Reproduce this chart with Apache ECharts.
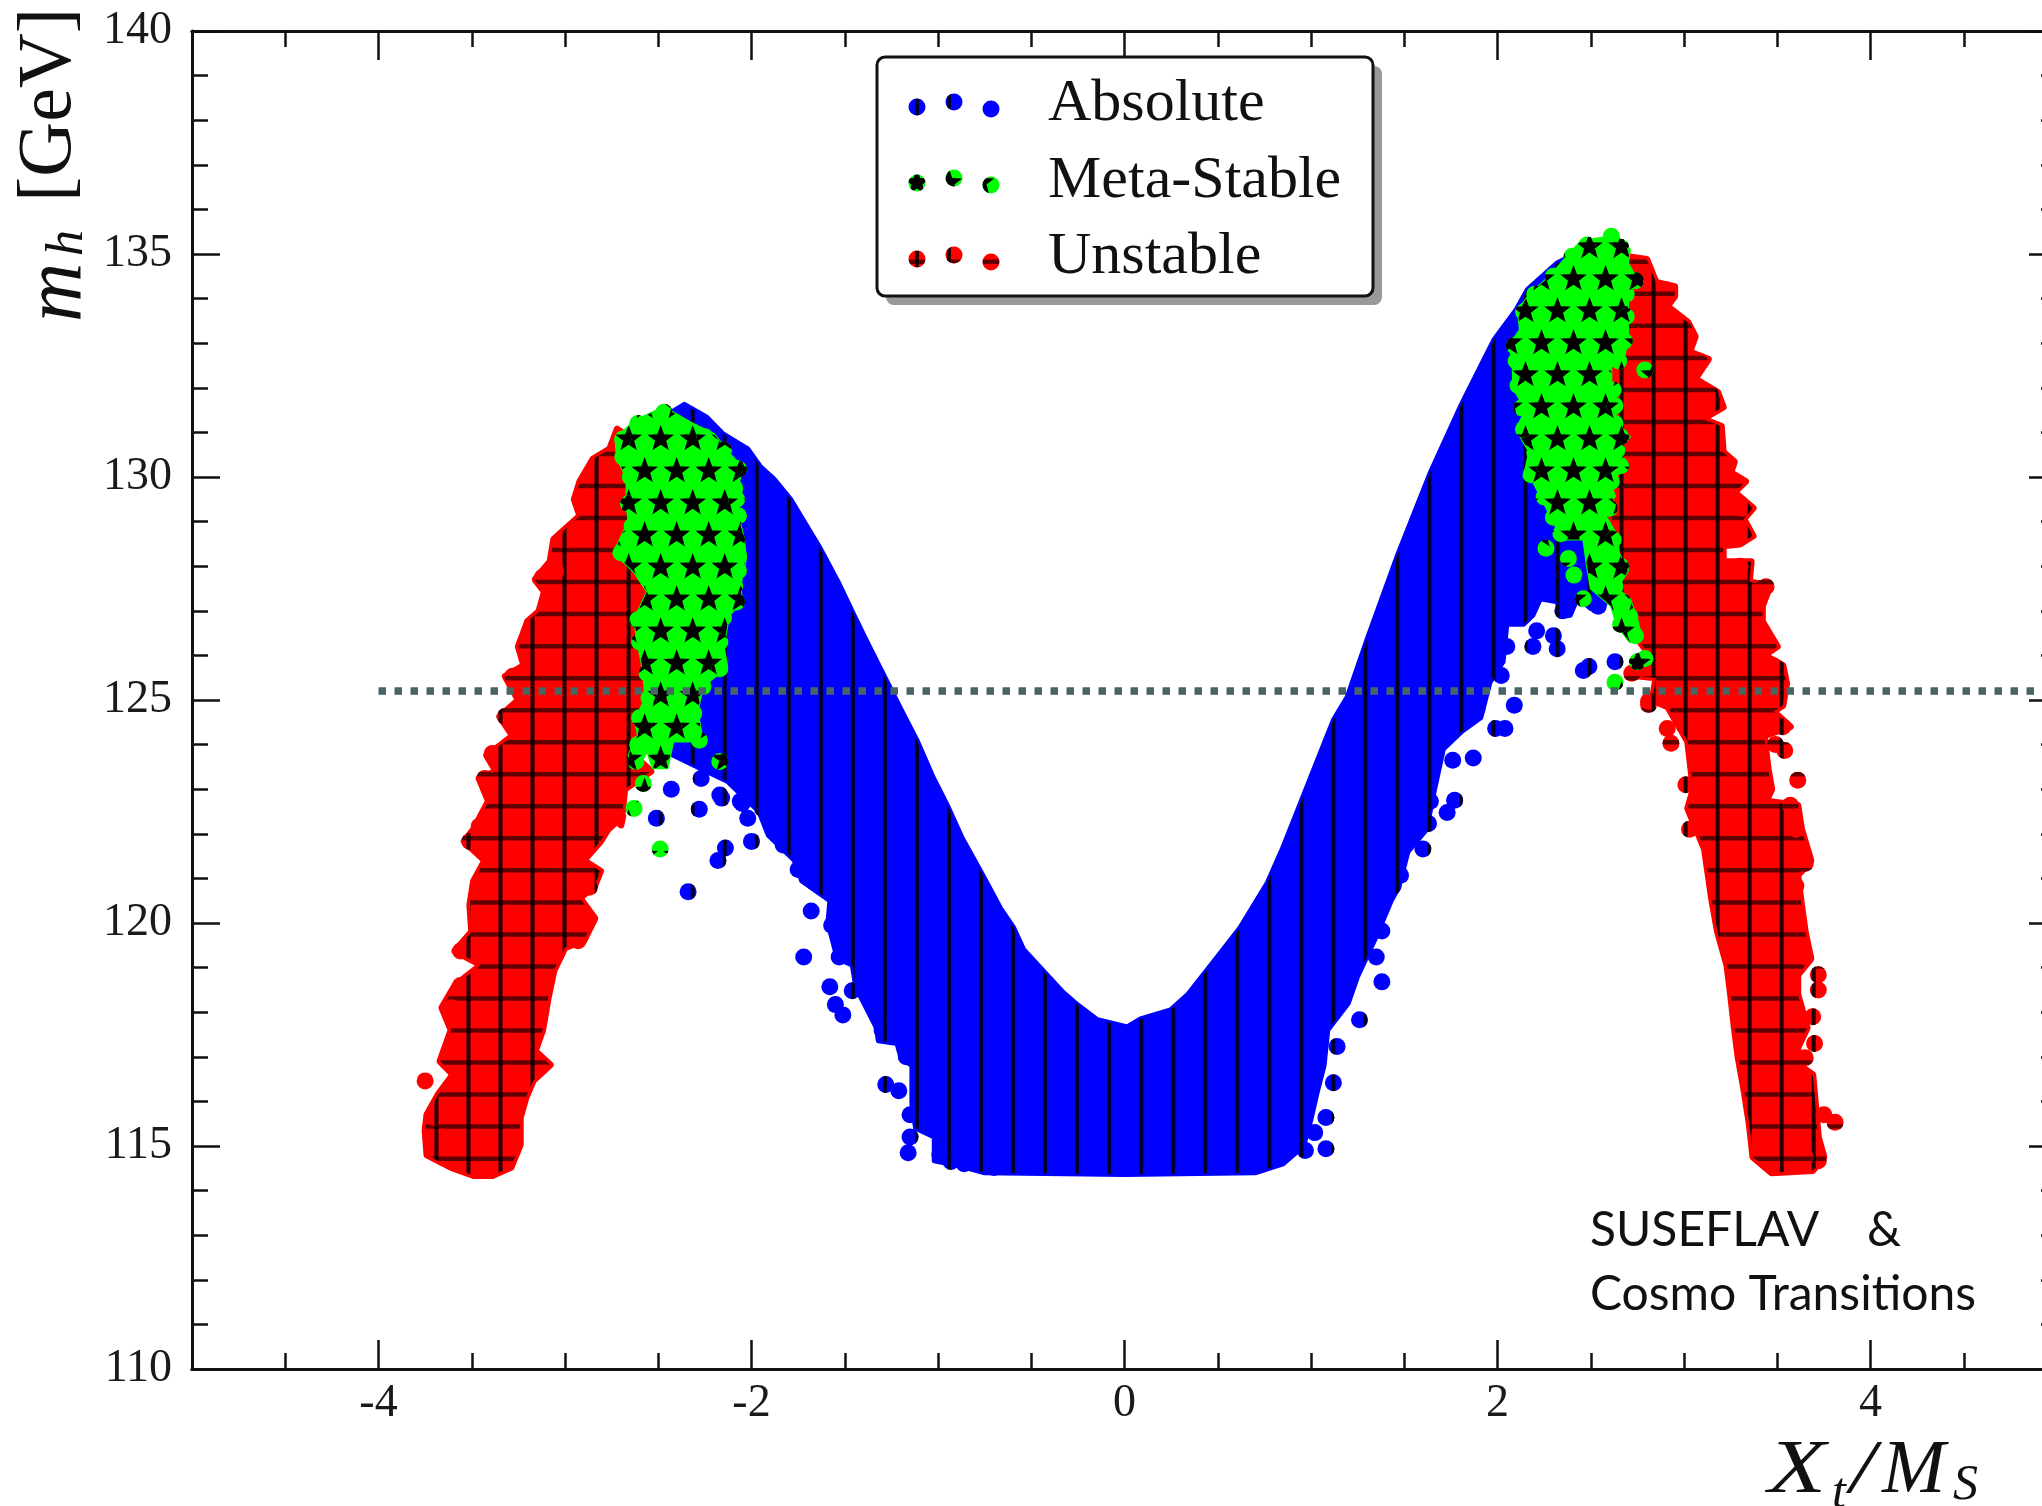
<!DOCTYPE html>
<html>
<head>
<meta charset="utf-8">
<title>m_h vs X_t/M_S</title>
<script src="https://cdn.jsdelivr.net/npm/echarts@6/dist/echarts.min.js"></script>
<style>
  html, body { margin: 0; padding: 0; background: #fff; }
  #main { width: 2042px; height: 1506px; filter: blur(0.7px); }
</style>
</head>
<body>
<div id="main"></div>
<script>
const xMajorTicks = [-4, -2, 0, 2, 4];

// outlines of the dense regions as [Xt/Ms, mh]
const absoluteOutline = [[-2.45,131.4],[-2.36,131.63],[-2.24,131.34],[-2.15,130.96],[-2.02,130.63],[-1.95,130.22],[-1.88,129.96],[-1.79,129.5],[-1.63,128.39],[-1.53,127.6],[-1.45,126.9],[-1.38,126.3],[-1.29,125.55],[-1.2,124.8],[-1.11,124.07],[-1.03,123.3],[-0.95,122.64],[-0.87,121.9],[-0.77,121.15],[-0.665,120.33],[-0.595,119.9],[-0.54,119.4],[-0.43,118.9],[-0.33,118.45],[-0.25,118.16],[-0.145,117.83],[0.015,117.67],[0.086,117.85],[0.247,118.05],[0.34,118.4],[0.42,118.83],[0.515,119.33],[0.62,119.9],[0.766,120.9],[0.85,121.7],[0.944,122.69],[1.03,123.6],[1.12,124.55],[1.195,125.07],[1.3,126.35],[1.46,128.2],[1.64,130.1],[1.8,131.57],[1.98,133.07],[2.1,133.75],[2.16,134.2],[2.32,134.8],[2.46,135.1],[2.63,135.1],[2.67,132],[2.63,129],[2.6,127.3],[2.55,127],[2.5,127.05],[2.43,127.3],[2.39,126.9],[2.34,126.87],[2.32,127.2],[2.23,127.27],[2.19,126.9],[2.14,126.7],[2.05,126.7],[2.03,125.86],[1.96,125.4],[1.91,124.6],[1.81,124.3],[1.71,123.9],[1.66,122.95],[1.62,122.1],[1.52,121.6],[1.47,120.8],[1.43,120.5],[1.35,119.7],[1.25,118.8],[1.2,118.2],[1.09,117.6],[1.07,116.8],[1.03,116.15],[1,115.6],[0.96,115],[0.85,114.6],[0.7,114.4],[0,114.36],[-0.75,114.4],[-0.88,114.55],[-1.02,114.67],[-1.02,115.2],[-1.12,115.4],[-1.14,115.93],[-1.14,116.8],[-1.2,117],[-1.22,117.3],[-1.32,117.36],[-1.33,117.65],[-1.44,118.55],[-1.46,119.06],[-1.54,119.2],[-1.59,120],[-1.58,120.5],[-1.73,120.94],[-1.77,121.4],[-1.91,121.97],[-1.96,122.5],[-2.13,123.18],[-2.29,123.5],[-2.42,123.76],[-2.45,124.74]];

const unstableLeftOutline = [[-2.72,131.07],[-2.76,130.63],[-2.85,130.4],[-2.92,129.9],[-2.95,129.5],[-2.92,129.13],[-3.06,128.6],[-3.08,128.1],[-3.16,127.7],[-3.11,127.43],[-3.14,126.98],[-3.2,126.76],[-3.25,126.2],[-3.22,125.77],[-3.32,125.53],[-3.25,125],[-3.35,124.63],[-3.28,124.2],[-3.34,124],[-3.42,123.76],[-3.37,123.4],[-3.46,123.24],[-3.41,122.73],[-3.49,122.1],[-3.54,121.83],[-3.43,121.4],[-3.49,120.94],[-3.51,120.4],[-3.5,119.8],[-3.59,119.37],[-3.45,119.06],[-3.59,118.6],[-3.66,118.1],[-3.61,117.6],[-3.67,116.9],[-3.6,116.6],[-3.68,116.15],[-3.74,115.7],[-3.75,115.35],[-3.74,114.8],[-3.61,114.52],[-3.49,114.34],[-3.39,114.34],[-3.29,114.52],[-3.24,115.03],[-3.24,115.64],[-3.21,116.08],[-3.17,116.47],[-3.08,116.82],[-3.16,117.13],[-3.12,117.6],[-3.09,118.33],[-3.06,118.93],[-3,119.45],[-2.9,119.6],[-2.84,120.1],[-2.92,120.56],[-2.84,120.85],[-2.81,121.16],[-2.9,121.4],[-2.81,121.83],[-2.77,122.1],[-2.69,122.4],[-2.7,122.2],[-2.68,123],[-2.54,123.4],[-2.63,123.76],[-2.58,124.36],[-2.56,125.3],[-2.56,127.43],[-2.61,129.2],[-2.66,130.2],[-2.66,130.9]];

const unstableRightOutline = [[2.7,134.94],[2.8,134.88],[2.85,134.36],[2.95,134.27],[2.95,134.05],[2.91,133.83],[3.02,133.47],[3.06,133.15],[3.03,132.8],[3.13,132.64],[3.06,132.2],[3.18,131.9],[3.21,131.57],[3.1,131.3],[3.2,131.14],[3.21,130.56],[3.27,130.34],[3.25,130.1],[3.33,129.9],[3.27,129.66],[3.37,129.3],[3.32,129.06],[3.37,128.68],[3.3,128.5],[3.21,128.46],[3.21,128.1],[3.36,128.1],[3.35,127.65],[3.46,127.56],[3.42,127.1],[3.42,126.76],[3.5,126.2],[3.43,126],[3.53,125.77],[3.55,125.37],[3.53,124.88],[3.48,124.74],[3.57,124.4],[3.43,124.2],[3.45,123.47],[3.47,123],[3.44,122.73],[3.61,122.64],[3.63,122.1],[3.68,121.4],[3.61,121.07],[3.63,120.4],[3.65,119.8],[3.68,119.2],[3.61,118.84],[3.61,118.4],[3.66,117.65],[3.61,117.2],[3.62,116.8],[3.69,116.6],[3.7,116.15],[3.72,115.2],[3.75,114.75],[3.69,114.45],[3.47,114.4],[3.37,114.75],[3.35,115.5],[3.32,116.3],[3.29,117],[3.27,117.65],[3.25,118.4],[3.23,119.06],[3.18,119.8],[3.15,120.5],[3.11,121.66],[3.02,122.57],[3.05,123],[3.02,124.07],[2.92,124.8],[2.94,124.8],[2.83,125],[2.85,125.5],[2.73,125.55],[2.8,126.1],[2.71,126.6],[2.62,127.34],[2.66,128.3],[2.59,129.44],[2.61,131.3],[2.6,132.4],[2.7,133.6]];

const metaLeftOutline = [[-2.73,130.85],[-2.63,131.25],[-2.47,131.57],[-2.33,131.23],[-2.2,130.96],[-2.13,130.58],[-2.05,130.22],[-2.07,129.8],[-2.07,129.13],[-2.04,128.6],[-2.03,128.17],[-2.06,127.56],[-2.05,127.2],[-2.12,126.9],[-2.15,126.2],[-2.13,125.75],[-2.26,125.3],[-2.29,124.74],[-2.26,124.07],[-2.33,124.07],[-2.42,124.07],[-2.45,123.47],[-2.53,123.47],[-2.56,123.85],[-2.61,123.47],[-2.66,123.76],[-2.61,124.2],[-2.62,124.6],[-2.57,125.03],[-2.58,125.6],[-2.61,126.3],[-2.63,126.8],[-2.56,127.43],[-2.63,127.87],[-2.74,128.3],[-2.66,129],[-2.67,129.4],[-2.67,130],[-2.72,130.4]];

const metaRightOutline = [[2.61,135.55],[2.67,135.26],[2.71,135.1],[2.7,134.8],[2.75,134.4],[2.7,134.1],[2.7,133.6],[2.7,133.09],[2.68,132.7],[2.61,132.48],[2.61,131.9],[2.66,131.6],[2.61,131.23],[2.71,130.9],[2.62,130.6],[2.7,130.25],[2.6,129.9],[2.63,129.57],[2.57,129.2],[2.64,128.7],[2.65,128.3],[2.7,127.9],[2.64,127.5],[2.71,127.27],[2.75,126.8],[2.77,126.44],[2.71,126.3],[2.64,126.67],[2.61,127.1],[2.5,127.5],[2.48,128],[2.46,128.6],[2.34,128.6],[2.3,129],[2.23,129.57],[2.19,129.9],[2.14,130],[2.17,130.56],[2.1,131.07],[2.15,131.5],[2.085,132],[2.08,132.64],[2.06,132.93],[2.12,133.3],[2.11,133.76],[2.18,134.13],[2.28,134.5],[2.39,135.03],[2.45,135.3],[2.57,135.37]];

// single points standing out of the outlines
const absolutePoints = [[-2.51,122.35],[-2.28,122.55],[-2,121.83],[-2.14,121.68],[-2.18,121.4],[-2.34,120.7],[-2.05,122.68],[-2.16,122.8],[-1.68,120.27],[-1.72,119.24],[-1.53,119.24],[-1.58,118.57],[-1.46,118.48],[-1.55,118.17],[-1.51,117.94],[-1.28,116.38],[-1.21,116.24],[-1.15,115.7],[-1.15,115.2],[-1.16,114.85],[-0.99,114.8],[-0.86,114.6],[-0.7,114.52],[-0.98,115],[-0.93,114.65],[-1.83,121.75],[-1.75,121.2],[-1.66,120.9],[-1.57,119.95],[-1.3,117.6],[-1.17,117],[-2.17,122.87],[-2.06,122.73],[-1.94,122.57],[-2.02,122.35],[-2.43,123],[-2.27,123.24],[2.21,126.55],[2.3,126.44],[2.19,126.2],[2.32,126.15],[2.49,125.75],[2.46,125.66],[2.63,125.86],[2.09,124.88],[2.04,124.36],[1.99,124.36],[1.89,124.8],[2.02,125.55],[2.05,126.2],[2.35,127],[2.54,127.1],[1.87,123.7],[1.76,123.65],[1.77,122.75],[1.73,122.48],[1.64,122.73],[1.63,122.23],[1.6,121.66],[1.48,121.07],[1.44,120.83],[1.38,119.82],[1.35,119.24],[1.38,118.68],[1.26,117.83],[1.14,117.23],[1.12,116.42],[1.08,115.64],[1.02,115.3],[1.08,114.94],[0.97,114.9]];

const metaPoints = [[-2.47,131.45],[-2.61,131.2],[-2.69,130.85],[-2.69,130.45],[-2.07,130.18],[-2.07,129.13],[-2.07,128.23],[-2.09,127.56],[-2.08,127.2],[-2.17,125.7],[-2.31,124.7],[-2.28,124.1],[-2.61,124],[-2.62,123.62],[-2.49,123.7],[-2.58,123.13],[-2.63,122.57],[-2.17,123.62],[-2.7,128.3],[-2.64,128.9],[-2.42,124.43],[-2.58,124.43],[-2.49,121.66],[-2.36,131.1],[-2.25,130.9],[-2.15,130.6],[-2.09,130.2],[-2.09,129.75],[-2.08,129.5],[-2.08,128.6],[-2.07,127.9],[-2.15,126.85],[-2.17,126.3],[-2.26,125.3],[-2.66,129.4],[-2.65,130],[-2.61,126.8],[-2.6,126.3],[-2.56,125.6],[-2.55,125.05],[-2.6,124.6],[2.61,135.4],[2.74,134.4],[2.66,135.15],[2.09,132.95],[2.11,132.05],[2.14,131.07],[2.18,130.05],[2.79,132.4],[2.66,130.9],[2.66,130.25],[2.63,131.6],[2.26,128.4],[2.3,129.1],[2.34,128.73],[2.38,128.17],[2.41,127.8],[2.46,127.27],[2.66,128],[2.67,127.2],[2.71,126.87],[2.66,126.7],[2.74,126.44],[2.79,125.93],[2.75,125.86],[2.63,125.4],[2.48,135.2],[2.4,134.95],[2.3,134.5],[2.2,134.1],[2.14,133.7],[2.1,132.6],[2.13,131.55],[2.2,130.55],[2.25,129.55],[2.69,134.1],[2.69,133.6],[2.68,133.05],[2.65,132.6],[2.62,131.95],[2.63,131.2],[2.64,130.6],[2.61,129.9],[2.6,129.3],[2.62,128.6],[2.63,127.55]];

const unstablePoints = [[-3.75,116.46],[-3.56,119.37],[-3.56,118.6],[-3.61,118.1],[-3.46,120.85],[-3.51,121.83],[-2.93,119.6],[-2.88,120.1],[-2.87,120.8],[-3.46,122.17],[-3.7,115.64],[-3.39,123.8],[-3.43,123.24],[-3.28,125.53],[-3.32,124.63],[-3.12,127.76],[-2.92,129.5],[-3.66,115.2],[-3.62,116.1],[-3.55,117.3],[-3.42,119.5],[-3.02,121.1],[-3.05,127.9],[-2.98,128.6],[-3.2,126.2],[3.81,115.53],[3.75,115.7],[3.72,114.67],[3.47,114.6],[3.65,114.75],[3.7,117.3],[3.65,116.98],[3.69,117.9],[3.72,118.84],[3.72,118.5],[3.65,119.24],[3.6,120.83],[3.58,120.33],[3.65,121.34],[3.61,123.2],[3.54,123.87],[3.49,124],[3.53,124.4],[3.57,122.64],[3.6,122.1],[3.03,122.1],[3.01,123.1],[2.91,124.36],[2.93,124.03],[2.81,124.9],[2.81,124.97],[2.72,125.6],[3.44,127.54],[3.48,125.77],[2.9,134.2],[3,133.3],[3.08,132.6],[3.14,131.85],[3.27,129.9],[3.31,129.3],[3.29,128.7],[3.3,128],[3.42,127.5],[3.45,126.25],[3.5,125.7],[3.5,125.4]];

const higgsLine = [[-4, 125.2], [5, 125.2]];

// matplotlib style hatch: one lattice in screen pixels shared by every marker
const hatchX0 = 596.6;
const hatchY0 = 486;
const hatchStep = 32.03;
const starY0 = 439;
const dotRadius = 8.5;
const kinds = {
  absolute: { fill: '#0000ff', edge: 5 },
  meta: { fill: '#00ff00', edge: 2 },
  unstable: { fill: '#ff0000', edge: 7 },
};

function latticeRange(lo, hi, origin, step) {
  const out = [];
  for (let k = Math.ceil((lo - origin) / step); origin + k * step <= hi; k++) out.push(origin + k * step);
  return out;
}

function starPoints(cx, cy) {
  const pts = [];
  for (let i = 0; i < 10; i++) {
    const r = i % 2 ? 5.8 : 14;
    const a = -Math.PI / 2 + (i * Math.PI) / 5;
    pts.push([cx + r * Math.cos(a), cy + r * Math.sin(a)]);
  }
  return pts;
}

function hatchElements(kind, x0, y0, x1, y1) {
  const out = [];
  if (kind === 'meta') {
    const rows = latticeRange(y0 - 14, y1 + 14, starY0, hatchStep);
    rows.forEach((y) => {
      const odd = Math.abs(Math.round((y - starY0) / hatchStep)) % 2 === 1;
      const origin = hatchX0 + (odd ? hatchStep / 2 : 0);
      latticeRange(x0 - 14, x1 + 14, origin, hatchStep).forEach((x) => {
        out.push({ type: 'polygon', shape: { points: starPoints(x, y) }, style: { fill: '#000' } });
      });
    });
    return out;
  }
  latticeRange(x0, x1, hatchX0, hatchStep).forEach((x) => {
    out.push({
      type: 'line',
      shape: { x1: x, y1: y0, x2: x, y2: y1 },
      style: { stroke: 'rgba(0,0,0,0.85)', lineWidth: 4 },
    });
  });
  if (kind === 'unstable') {
    latticeRange(y0, y1, hatchY0, hatchStep).forEach((y) => {
      out.push({
        type: 'line',
        shape: { x1: x0, y1: y, x2: x1, y2: y },
        style: { stroke: 'rgba(0,0,0,0.62)', lineWidth: 4.5 },
      });
    });
  }
  return out;
}

function dotElement(kind, cx, cy) {
  const r = dotRadius;
  return {
    type: 'group',
    children: [
      { type: 'circle', shape: { cx, cy, r }, style: { fill: kinds[kind].fill } },
      {
        type: 'group',
        clipPath: { type: 'circle', shape: { cx, cy, r } },
        children: hatchElements(kind, cx - r, cy - r, cx + r, cy + r),
      },
    ],
  };
}

function bandSeries(name, outline, kind, z) {
  return {
    name,
    type: 'custom',
    coordinateSystem: 'cartesian2d',
    z,
    silent: true,
    clip: false,
    data: [outline[0]],
    renderItem: (params, api) => {
      const points = outline.map((p) => api.coord(p));
      const xs = points.map((p) => p[0]);
      const ys = points.map((p) => p[1]);
      const fill = kinds[kind].fill;
      return {
        type: 'group',
        children: [
          { type: 'polygon', shape: { points }, style: { fill, stroke: fill, lineWidth: kinds[kind].edge, lineJoin: 'round' } },
          {
            type: 'group',
            clipPath: { type: 'polygon', shape: { points } },
            children: hatchElements(kind, Math.min(...xs), Math.min(...ys), Math.max(...xs), Math.max(...ys)),
          },
        ],
      };
    },
  };
}

function dotSeries(name, points, kind, z) {
  return {
    name,
    type: 'custom',
    coordinateSystem: 'cartesian2d',
    z,
    silent: true,
    clip: false,
    data: points,
    renderItem: (params, api) => {
      const c = api.coord([api.value(0), api.value(1)]);
      return dotElement(kind, c[0], c[1]);
    },
  };
}

const legendRows = [
  ['absolute', [[917, 107], [954, 102], [991, 109]]],
  ['meta', [[917, 183], [954, 178], [991, 185]]],
  ['unstable', [[917, 259], [954, 255], [991, 262]]],
];

function legendSeries(kind, spots) {
  return {
    type: 'custom',
    coordinateSystem: 'none',
    z: 60,
    silent: true,
    data: spots,
    renderItem: (params, api) => dotElement(kind, api.value(0), api.value(1)),
  };
}

const axisLine = { show: true, onZero: false, lineStyle: { color: '#111', width: 3 } };
const tickLine = { color: '#111', width: 2.5 };
const labelStyle = { fontFamily: 'Liberation Serif', fontSize: 46, color: '#1a1a1a' };

function xAxisOf(position, major) {
  return {
    type: 'value',
    position,
    min: -5,
    max: 5,
    interval: 0.5,
    splitLine: { show: false },
    axisLine,
    axisTick: major
      ? { show: true, inside: true, length: 29, lineStyle: tickLine, customValues: xMajorTicks }
      : { show: true, inside: true, length: 16, lineStyle: tickLine },
    axisLabel: major && position === 'bottom'
      ? { show: true, margin: 12, customValues: xMajorTicks, ...labelStyle }
      : { show: false },
  };
}

function yAxisOf(position) {
  return {
    type: 'value',
    position,
    min: 110,
    max: 140,
    interval: 5,
    splitLine: { show: false },
    axisLine,
    axisTick: { show: true, inside: true, length: 28, lineStyle: tickLine },
    minorTick: { show: true, splitNumber: 5, length: 16, lineStyle: tickLine },
    minorSplitLine: { show: false },
    axisLabel: position === 'left' ? { show: true, margin: 20, padding: [10, 0, 0, 0], ...labelStyle } : { show: false },
  };
}

function label(text, x, y, font, extra) {
  return {
    type: 'text',
    z: 70,
    silent: true,
    x,
    y,
    ...extra,
    style: { text, font, fill: '#111', textAlign: 'left', textVerticalAlign: 'middle' },
  };
}

const serif = "'Liberation Serif'";
const turned = { rotation: Math.PI / 2 };

const chart = echarts.init(document.getElementById('main'));
chart.setOption({
  animation: false,
  backgroundColor: '#fff',
  // the right spine sits past the edge of the picture, only its ticks show
  grid: { left: 192, width: 1865, top: 31, height: 1338, outerBoundsMode: 'none' },
  xAxis: [xAxisOf('bottom', false), xAxisOf('bottom', true), xAxisOf('top', false), xAxisOf('top', true)],
  yAxis: [yAxisOf('left'), yAxisOf('right')],
  graphic: {
    elements: [
      { type: 'rect', z: 50, silent: true, shape: { x: 886, y: 66, width: 496, height: 239, r: 8 }, style: { fill: '#999' } },
      { type: 'rect', z: 51, silent: true, shape: { x: 877, y: 57, width: 496, height: 239, r: 8 }, style: { fill: '#fff', stroke: '#111', lineWidth: 3 } },
      label('Absolute', 1048, 104, `60px ${serif}`),
      label('Meta-Stable', 1048, 181, `60px ${serif}`),
      label('Unstable', 1048, 257, `60px ${serif}`),
      label('[GeV]', 50, 202, `76px ${serif}`, turned),
      label('m', 58, 322, `italic 82px ${serif}`, turned),
      label('h', 68, 256, `italic 52px ${serif}`, turned),
      label('X', 1768, 1472, `italic 76px ${serif}`, { scaleX: 1.25 }),
      label('t', 1832, 1494, `italic 50px ${serif}`),
      label('/', 1850, 1472, `italic 76px ${serif}`, { scaleX: 1.2 }),
      label('M', 1882, 1472, `italic 76px ${serif}`),
      label('S', 1953, 1486, `italic 50px ${serif}`),
      label('SUSEFLAV', 1590, 1231, '48px Lato'),
      label('&', 1867, 1231, '48px Lato'),
      label('Cosmo Transitions', 1590, 1295, '48px Lato'),
    ],
  },
  series: [
    bandSeries('Absolute', absoluteOutline, 'absolute', 2),
    dotSeries('Absolute', absolutePoints, 'absolute', 2),
    bandSeries('Unstable', unstableLeftOutline, 'unstable', 3),
    bandSeries('Unstable', unstableRightOutline, 'unstable', 3),
    dotSeries('Unstable', unstablePoints, 'unstable', 3),
    bandSeries('Meta-Stable', metaLeftOutline, 'meta', 4),
    bandSeries('Meta-Stable', metaRightOutline, 'meta', 4),
    dotSeries('Meta-Stable', metaPoints, 'meta', 4),
    {
      name: 'mh = 125.2',
      type: 'line',
      z: 20,
      silent: true,
      symbol: 'none',
      data: higgsLine,
      lineStyle: { color: '#476565', width: 7.5, type: [7.5, 8.5] },
    },
    ...legendRows.map(([kind, spots]) => legendSeries(kind, spots)),
  ],
});
</script>
</body>
</html>
